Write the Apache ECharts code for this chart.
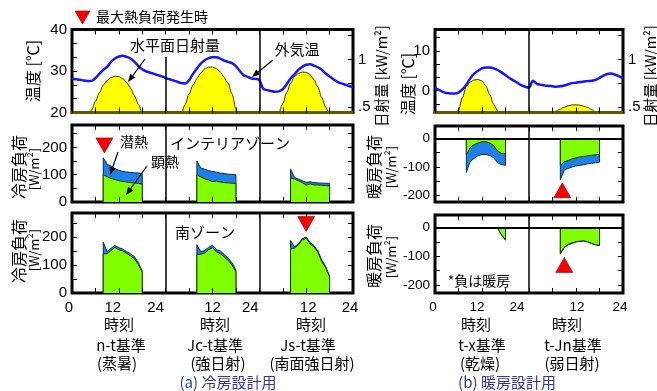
<!DOCTYPE html>
<html><head><meta charset="utf-8">
<script src="https://cdn.jsdelivr.net/npm/echarts@6/dist/echarts.min.js"></script>
<style>html,body{margin:0;padding:0;background:#fff}#c{width:657px;height:391px}</style>
</head><body><div id="c"></div>
<script>
// ---------------- data ----------------
// Summer (cooling) design days: hourly outdoor temperature (deg C), hours 0..72
const summerTemp = [28.2,28.0,27.9,27.7,27.6,27.6,28.3,29.3,30.3,31.0,32.2,33.0,33.5,33.7,33.4,33.0,32.2,31.2,30.4,29.9,29.6,29.3,29.0,28.7,
  28.3,28.0,27.7,27.4,27.1,27.0,27.8,29.3,30.6,31.8,32.6,33.1,33.3,33.3,33.0,32.5,32.2,31.9,31.2,30.0,29.0,28.6,28.2,28.1,
  27.8,25.7,25.4,25.2,25.0,25.1,25.6,26.8,28.2,29.2,30.3,31.0,31.5,31.6,31.3,30.9,30.3,29.4,28.7,28.0,27.4,27.0,26.7,26.4,26.1];
// Summer horizontal solar radiation (kW/m2), hours 0..72
const summerSolar = [0,0,0,0,0.40,0.47,0.56,0.65,0.73,0.78,0.81,0.825,0.82,0.80,0.76,0.70,0.62,0.53,0.44,0,0,0,0,0,
  0,0,0,0,0.43,0.53,0.64,0.73,0.80,0.86,0.90,0.92,0.92,0.905,0.87,0.81,0.75,0.64,0.48,0,0,0,0,0,
  0,0,0,0,0,0.44,0.54,0.65,0.75,0.82,0.855,0.868,0.865,0.84,0.79,0.71,0.60,0.50,0.42,0,0,0,0,0,0];
// Winter (heating) design days, hours 0..48
const winterTemp = [0.6,0.2,-0.3,-0.6,-0.7,-0.7,-0.5,0.3,1.5,3.1,4.3,5.0,5.6,5.8,5.8,5.6,5.2,4.6,3.9,3.2,2.6,2.0,1.4,1.0,
  0.8,2.5,1.7,1.5,1.3,1.2,1.1,1.0,1.1,1.3,1.6,1.9,2.0,2.2,2.3,2.4,2.5,2.7,3.2,3.8,4.2,4.3,4.0,3.6,3.1];
const winterSolar = [0,0,0,0,0,0.41,0.47,0.60,0.72,0.765,0.785,0.79,0.775,0.72,0.63,0.53,0.46,0.40,0,0,0,0,0,0,
  0,0,0,0,0,0,0.44,0.46,0.48,0.50,0.515,0.523,0.525,0.52,0.51,0.495,0.475,0.45,0.43,0,0,0,0,0,0];

// Loads (W/m2) during operating hours 8..18 for each design day
const loadHours = [8,9,10,11,12,13,14,15,16,17,18];
// cooling, interior zone  (days: n-t, Jc-t, Js-t)
const coolInteriorSensible = [[100,93,86,82,78,75,73,71,70,68,66],[100,92,85,80,75,76,73,71,70,69,68],[88,84,78,71,62,66,63,62,61,60,59]];
const coolInteriorLatent   = [[62,45,46,40,38,37,37,37,37,38,39],[50,33,35,35,37,33,33,33,32,32,32],[33,6,6,7,10,8,8,8,8,9,9]];
// cooling, south zone
const coolSouthSensible = [[140,140,152,163,155,150,142,133,123,102,74],[138,138,144,155,162,147,140,130,116,100,76],[158,160,172,190,196,175,165,146,112,90,57]];
const coolSouthLatent   = [[42,8,8,7,7,7,6,7,7,6,4],[35,9,8,8,9,8,10,8,8,8,6],[30,5,4,4,4,5,5,4,6,4,5]];
// heating (negative), interior zone (days: t-x, t-Jn)
const heatInteriorSensible = [[-58,-32,-22,-16,-12,-12,-16,-26,-45,-53,-54],[-94,-82,-77,-72,-68,-65,-63,-61,-59,-57,-56]];
const heatInteriorLatent   = [[-61,-48,-48,-44,-44,-44,-44,-42,-40,-39,-40],[-52,-28,-28,-28,-28,-29,-29,-28,-28,-28,-27]];
// heating, south zone
const heatSouthSensible = [[0,0,0,0,0,0,0,0,-3,-25,-43],[-90,-68,-58,-53,-49,-47,-46,-49,-55,-59,-62]];
const heatSouthLatent   = [[0,0,0,0,0,0,0,0,0,-1,-1],[-2,-2,-2,-2,-1,-1,-1,-1,-1,-1,-1]];
// peak-load markers [hour, W/m2]
const coolInteriorPeak = [[8.3, 207]];
const coolSouthPeak = [[60, 247]];
const heatInteriorPeak = [[32.5, -181]];
const heatSouthPeak = [[33, -130]];

// tick labels
const tempTicksSummer = [20,30,40];
const tempTicksWinter = [0,10];
const solarTicks = [0.5,1];
const coolTicks = [0,100,200];
const heatTicks = [-200,-100,0];

// ---------------- styling ----------------
const FONT = '"Liberation Sans", Arial, sans-serif';
const JP = '"Noto Sans CJK JP", "Noto Sans", sans-serif';
const BLUE_AREA = '#1f80e8', GREEN_AREA = '#80ff00', YELLOW = '#ffff00';
const grids = [
  {left:72, top:29.5, width:281, height:83},
  {left:72, top:125, width:281, height:77},
  {left:72, top:213, width:281, height:80},
  {left:435, top:29.5, width:188, height:83},
  {left:435, top:126, width:188, height:76},
  {left:435, top:215, width:188, height:78}
];
const leftShift = {0:-3,12:-6,24:-10,36:0,48:-9,60:2,72:-3};
const rightShift = {0:-2,12:-5,24:-12,36:1,48:-3};

function xLabelCfg(shift, size){
  const rich = {};
  Object.keys(shift).forEach(k => {
    const s = shift[k];
    rich['p'+k] = {fontSize:size, fontFamily:FONT, color:'#000', padding: s<0 ? [0,-2*s,0,0] : [0,0,0,2*s]};
  });
  return {show:true, margin:7, fontSize:size, fontFamily:FONT, color:'#000', rich,
    formatter: v => { if (v % 12 !== 0) return ''; const t = v===0 ? '0' : (v%24===0 ? '24' : '12'); return '{p'+v+'|'+t+'}'; }};
}

const option = {animation:false, grid:[], xAxis:[], yAxis:[], series:[], graphic:[]};
grids.forEach((g,gi) => {
  option.grid.push(Object.assign({show:true, borderColor:'#000', borderWidth:3, backgroundColor:'transparent', containLabel:false, outerBoundsMode:'none'}, g));
  const isRight = gi >= 3, isBottom = gi===2 || gi===5, isTop = gi===0 || gi===3;
  const max = isRight ? 48 : 72;
  option.xAxis.push({gridIndex:gi, type:'value', min:0, max, interval:6, position:'bottom', z:5,
    axisLine:{show:isTop, onZero:false, lineStyle:{color:'#5a5a00', width:3}},
    axisTick:{show:true, inside:true, length:5, lineStyle:{color:'#000', width:1}},
    axisLabel: isBottom ? xLabelCfg(isRight ? rightShift : leftShift, isRight ? 13.5 : 15) : {show:false},
    splitLine:{show:false}});
  option.xAxis.push({gridIndex:gi, type:'value', min:0, max, interval:6, position:'top',
    axisLine:{show:false, onZero:false}, axisTick:{show:true, inside:true, length:5, lineStyle:{color:'#000', width:1}},
    axisLabel:{show:false}, splitLine:{show:false}});
});

function yAx(gi, pos, min, max, labels, ticks, size, fmt){
  return {gridIndex:gi, type:'value', position:pos, min, max,
    axisLine:{show:false, onZero:false},
    axisTick:{show:true, inside:true, length:5, customValues:ticks, lineStyle:{color:'#000', width:1}},
    axisLabel: labels ? {show:true, customValues:labels, fontSize:size, fontFamily:FONT, color:'#000', margin:5, formatter: fmt || (v => String(v))} : {show:false},
    splitLine:{show:false}};
}
const solarFmt = v => v === 1 ? '1' : '.5';
const tTicksS = [20,23.33,26.67,30,33.33,36.67,40];
const tTicksW = [-3.33,0,3.33,6.67,10,13.33];
const sTicks = [0.5,0.75,1,1.25];
const cTicks = [50,100,150,200,250];
const hTicks = [-200,-150,-100,-50,0];
option.yAxis.push(yAx(0,'left',20,40,tempTicksSummer,tTicksS,15));
option.yAxis.push(yAx(0,'right',0.444,1.314,solarTicks,sTicks,15,solarFmt));
option.yAxis.push(yAx(1,'left',0,282,coolTicks,cTicks,15));
option.yAxis.push(yAx(1,'right',0,282,null,cTicks));
option.yAxis.push(yAx(2,'left',0,286,coolTicks,cTicks,15));
option.yAxis.push(yAx(2,'right',0,286,null,cTicks));
option.yAxis.push(yAx(3,'left',-5.5,15.4,tempTicksWinter,tTicksW,15));
option.yAxis.push(yAx(3,'right',0.444,1.314,solarTicks,sTicks,15,solarFmt));
option.yAxis.push(yAx(4,'left',-222,43,heatTicks,hTicks,13.5));
option.yAxis.push(yAx(4,'right',-222,43,null,hTicks));
option.yAxis.push(yAx(5,'left',-228,44,heatTicks,hTicks,13.5));
option.yAxis.push(yAx(5,'right',-228,44,null,hTicks));

// ---------------- series ----------------
const divStyle = {color:'#000', width:1.5, type:'solid'};
function hourly(arr){ return arr.map((v,i) => [i, v]); }
function solarSeries(gi, arr){
  return {type:'line', xAxisIndex:2*gi, yAxisIndex:2*gi+1, data:hourly(arr), symbol:'none', smooth:0.3, smoothMonotone:'x',
    lineStyle:{color:'#3a3a00', width:1}, areaStyle:{color:YELLOW, opacity:1, origin:'start'}, z:2};
}
function tempSeries(gi, arr, marks){
  return {type:'line', xAxisIndex:2*gi, yAxisIndex:2*gi, data:hourly(arr), symbol:'none', smooth:0.3,
    lineStyle:{color:'#1414ff', width:2.5}, z:4,
    markLine:{silent:true, symbol:'none', label:{show:false}, lineStyle:divStyle, data:marks}};
}
function dayData(day, vals){
  const off = 24*day;
  return [[off+loadHours[0], 0]].concat(loadHours.map((h,i) => [off+h, vals[i]])).concat([[off+loadHours[loadHours.length-1], 0]]);
}
function loadSeries(gi, sens, lat){
  const out = [];
  sens.forEach((s, d) => {
    const tot = s.map((v,i) => v + lat[d][i]);
    out.push({type:'line', xAxisIndex:2*gi, yAxisIndex:2*gi, data:dayData(d, tot), symbol:'none',
      lineStyle:{color:'#0b2a55', width:1}, areaStyle:{color:BLUE_AREA, opacity:1}, z:2});
    out.push({type:'line', xAxisIndex:2*gi, yAxisIndex:2*gi, data:dayData(d, s), symbol:'none',
      lineStyle:{color:'#1d3a00', width:1}, areaStyle:{color:GREEN_AREA, opacity:1}, z:3});
  });
  return out;
}
function guideSeries(gi, marks){
  return {type:'line', xAxisIndex:2*gi, yAxisIndex:2*gi, data:[], symbol:'none', z:4,
    markLine:{silent:true, symbol:'none', label:{show:false}, lineStyle:divStyle, data:marks}};
}
function peakSeries(gi, pts, down){
  return {type:'scatter', xAxisIndex:2*gi, yAxisIndex:2*gi, data:pts, symbol:'triangle', symbolSize:[17,15],
    symbolRotate: down ? 180 : 0, itemStyle:{color:'#ff0000', borderColor:'#6a0000', borderWidth:0.6, opacity:1}, z:6};
}

option.series.push(solarSeries(0, summerSolar));
option.series.push(tempSeries(0, summerTemp, [[{coord:[24,20]},{coord:[24,33.4]}],[{coord:[48,20]},{coord:[48,40]}]]));
option.series.push(...loadSeries(1, coolInteriorSensible, coolInteriorLatent));
option.series.push(guideSeries(1, [{xAxis:24},{xAxis:48}]));
option.series.push(peakSeries(1, coolInteriorPeak, true));
option.series.push(...loadSeries(2, coolSouthSensible, coolSouthLatent));
option.series.push(guideSeries(2, [{xAxis:24},{xAxis:48}]));
option.series.push(peakSeries(2, coolSouthPeak, true));
option.series.push(solarSeries(3, winterSolar));
option.series.push(tempSeries(3, winterTemp, [{xAxis:24}]));
option.series.push(...loadSeries(4, heatInteriorSensible, heatInteriorLatent));
option.series.push(guideSeries(4, [{xAxis:24},{yAxis:0, lineStyle:{color:'#000', width:2}}]));
option.series.push(peakSeries(4, heatInteriorPeak, false));
option.series.push(...loadSeries(5, heatSouthSensible, heatSouthLatent));
option.series.push(guideSeries(5, [{xAxis:24},{yAxis:0, lineStyle:{color:'#000', width:2}}]));
option.series.push(peakSeries(5, heatSouthPeak, false));

// ---------------- annotations & axis titles ----------------
function txt(t, x, y, size, color, rot){
  return {type:'text', x, y, z:100, silent:true, rotation: rot || 0,
    style:{text:t, fontSize:size, fontFamily:JP, fill:color || '#000', align:'center', verticalAlign:'middle'}};
}
function vtxt(t, x, y, size){ return txt(t, x, y, size, '#000', Math.PI/2); }
function arrow(x1,y1,x2,y2){
  const a = Math.atan2(y2-y1, x2-x1), L = 8, W = 3.2;
  const bx = x2 - L*Math.cos(a), by = y2 - L*Math.sin(a);
  const px = -Math.sin(a)*W, py = Math.cos(a)*W;
  return [{type:'line', z:100, silent:true, shape:{x1, y1, x2:bx, y2:by}, style:{stroke:'#000', lineWidth:1.2}},
          {type:'polygon', z:100, silent:true, shape:{points:[[x2,y2],[bx+px,by+py],[bx-px,by-py]]}, style:{fill:'#000'}}];
}
const CAP = '#3434a8';
option.graphic = [
  {type:'polygon', z:100, shape:{points:[[75,11],[90,11],[82.5,24]]}, style:{fill:'#ff0000', stroke:'#6a0000', lineWidth:0.6}},
  txt('最大熱負荷発生時', 152, 17, 14),
  txt('水平面日射量', 175, 45, 15),
  txt('外気温', 297, 49, 15),
  txt('潜熱', 134, 142, 14),
  txt('顕熱', 165, 162, 14),
  txt('インテリアゾーン', 230, 143, 15),
  txt('南ゾーン', 205, 232, 15),
  txt('*負は暖房', 479, 281, 14),
  txt('時刻', 119, 324, 15), txt('時刻', 215, 324, 15), txt('時刻', 311, 324, 15), txt('時刻', 476, 324, 15), txt('時刻', 567, 324, 15),
  txt('n-t基準', 121, 345, 15), txt('Jc-t基準', 215, 345, 15), txt('Js-t基準', 308, 345, 15), txt('t-x基準', 482, 345, 15), txt('t-Jn基準', 573, 345, 15),
  txt('(蒸暑)', 117, 363, 15), txt('(強日射)', 218, 363, 15), txt('(南面強日射)', 312, 363, 15), txt('(乾燥)', 480, 363, 15), txt('(弱日射)', 572, 363, 15),
  txt('(a) 冷房設計用', 228, 382, 15, CAP), txt('(b) 暖房設計用', 507, 382, 15, CAP),
  // axis titles
  vtxt('温度 [℃]', 33, 71, 16),
  vtxt('日射量 [kW/m²]', 381, 76, 14.5),
  vtxt('冷房負荷', 19, 167, 16), vtxt('[W/m²]', 34, 169, 13),
  vtxt('冷房負荷', 19, 251, 16), vtxt('[W/m²]', 34, 250, 13),
  vtxt('温度 [℃]', 408, 84, 16),
  vtxt('日射量 [kW/m²]', 650, 76, 14.5),
  vtxt('暖房負荷', 374, 167, 16), vtxt('[W/m²]', 391, 167, 13),
  vtxt('暖房負荷', 374, 256, 16), vtxt('[W/m²]', 391, 257, 13),
  ...arrow(145,59,128,82),
  ...arrow(273,60,252,77),
  ...arrow(118,152,110,175),
  ...arrow(147,166,126,195)
];

const chart = echarts.init(document.getElementById('c'), null, {renderer:'canvas'});
chart.setOption(option);
</script></body></html>
